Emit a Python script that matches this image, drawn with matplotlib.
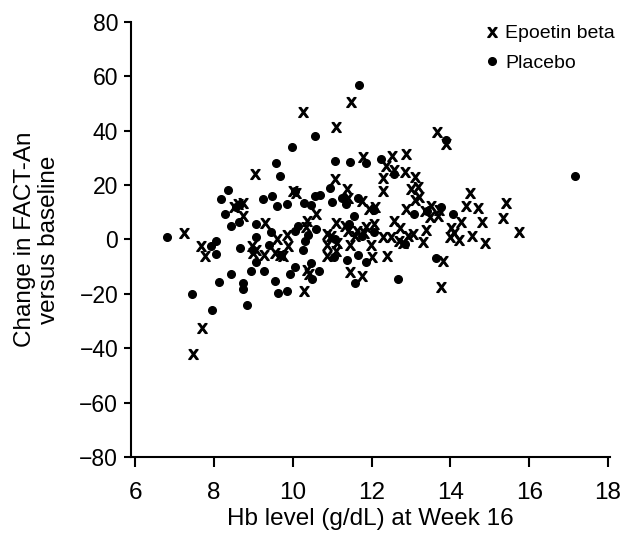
import matplotlib
matplotlib.use("Agg")
import matplotlib.pyplot as plt

# Placebo (dots)
placebo_x = [6.80, 7.45, 7.96, 8.06, 8.06, 7.93, 8.13, 8.17, 8.27, 8.37, 8.43, 8.44, 8.57, 8.65, 8.66,
             8.67, 8.75, 8.75, 8.84, 8.93, 9.06, 9.08, 9.08, 9.00, 9.25, 9.26, 9.41, 9.47, 9.46, 9.57,
             9.55, 9.59, 9.63, 9.67, 9.71, 9.85, 9.85, 9.94, 9.97, 10.06, 10.07, 10.06, 10.14, 10.26,
             10.28, 10.30, 10.46, 10.47, 10.48, 10.57, 10.56, 10.58, 10.68, 10.66, 10.38, 10.94, 11.00,
             11.07, 11.05, 11.07, 11.24, 11.34, 11.38, 11.44, 11.45, 11.55, 11.57, 11.65, 11.67, 11.65,
             11.75, 11.86, 11.86, 12.06, 12.06, 12.24, 12.58, 12.66, 12.85, 13.08, 13.40, 13.63, 13.77,
             13.88, 14.06, 17.17]
placebo_y = [1.0, -20.0, -25.8, -0.5, -5.5, -2.5, -15.6, 15.0, 9.2, 18.0, 4.9, -12.8, 12.0, 6.3, -3.0,
             13.0, -16.0, -18.4, -24.0, -11.7, 5.8, 0.9, -8.2, -4.0, 14.7, -11.7, -2.1, 15.8, 2.6, 27.9,
             -15.3, 12.2, -19.9, 23.1, -5.7, -19.1, 13.0, -12.6, 34.1, -10.3, 3.0, 17.9, 4.9, -3.8,
             13.3, -0.5, -8.6, 12.8, -14.6, 37.9, 15.8, 3.9, 16.4, -11.6, 1.5, 19.0, 13.6,
             28.8, -6.5, 0.0, 15.3, 13.0, -7.5, 5.7, 28.6, 8.6, -16.1, 15.1, 56.6, -5.7,
             1.3, 28.0, -8.4, 2.8, 10.8, 29.4, 23.9, -14.5, -1.8, 9.2, 10.3, -7.0, 11.8,
             36.5, 9.2, 23.4]

# Epoetin beta (x)
epo_x = [7.23, 7.67, 7.77, 7.69, 7.48, 8.51, 8.61, 8.73, 8.75, 9.05, 8.96, 9.06, 9.00, 9.29, 9.27,
         9.55, 9.61, 9.67, 9.75, 9.85, 9.87, 10.02, 10.08, 10.26, 10.28, 10.34, 10.37, 10.36, 10.42,
         10.58, 10.88, 10.88, 10.88, 10.98, 11.10, 11.08, 11.10, 11.12, 11.10, 11.32, 11.38, 11.40,
         11.40, 11.48, 11.46, 11.46, 11.57, 11.63, 11.77, 11.79, 11.81, 11.77, 11.85, 11.93, 11.98,
         12.00, 12.08, 12.06, 12.28, 12.28, 12.30, 12.36, 12.38, 12.50, 12.52, 12.58, 12.57, 12.69,
         12.71, 12.79, 12.85, 12.87, 12.88, 12.93, 12.99, 13.04, 13.10, 13.10, 13.19, 13.21, 13.30,
         13.35, 13.37, 13.48, 13.51, 13.67, 13.69, 13.71, 13.81, 13.77, 13.88, 13.98, 14.01, 14.09,
         14.21, 14.26, 14.39, 14.49, 14.56, 14.69, 14.79, 14.89, 15.34, 15.41, 15.74]
epo_y = [2.5, -2.5, -6.0, -32.5, -42.1, 12.0, 13.0, 13.3, 8.6, 24.2, -2.5, -3.8, -5.0, 6.0, -5.7,
         -5.0, 0.3, -5.7, -6.0, 1.5, -2.5, 17.6, 17.0, 46.8, -19.1, 4.4, 6.8, -11.3, -12.8,
         9.2, 1.9, -2.0, -6.0, 1.3, 41.3, 22.1, 6.0, -1.3, -4.4, 4.8, 18.4, 15.3,
         3.1, 50.4, -1.9, -12.1, 1.3, 3.0, 14.2, 30.2, 2.3, -13.3, 4.7, 11.3, -1.9,
         -6.5, 12.0, 5.7, 22.4, 17.6, 0.9, 27.0, -6.3, 0.9, 30.7, 6.9, 25.5, -0.5,
         4.0, -1.3, 24.8, 31.2, 11.1, 1.3, 18.6, 1.9, 22.9, 14.5, 19.1, 15.7, -0.8,
         10.3, 3.5, 8.2, 12.1, 39.4, 8.6, 10.9, -8.0, -17.6, 35.2, 0.9, 4.3, 2.5,
         -0.4, 6.5, 12.3, 17.2, 1.3, 11.6, 6.5, -1.3, 7.8, 13.3, 2.8]

x_ticks = [6, 8, 10, 12, 14, 16, 18]
y_ticks = [-80, -60, -40, -20, 0, 20, 40, 60, 80]

plt.rcParams['font.family'] = ['Liberation Sans', 'DejaVu Sans']

fig = plt.figure(figsize=(6.29, 5.33), dpi=100)
ax = fig.add_axes([0.2078, 0.1426, 0.762, 0.8167])

ax.plot(epo_x, epo_y, linestyle='none', marker=r'$\mathrm{x}$', markersize=7,
        color='black', label='Epoetin beta')
ax.plot(placebo_x, placebo_y, linestyle='none', marker='o', markersize=5.5,
        color='black', label='Placebo')

ax.set_xlim(5.89, 18.05)
ax.set_ylim(-80, 80)
ax.set_xticks(x_ticks)
ax.set_yticks(y_ticks)
ax.spines['top'].set_visible(False)
ax.spines['right'].set_visible(False)
ax.spines['left'].set_linewidth(1.5)
ax.spines['bottom'].set_linewidth(1.5)
ax.tick_params(axis='y', direction='out', length=5, width=1.5, labelsize=16.5, pad=4)
ax.tick_params(axis='x', direction='out', length=7, width=1.5, labelsize=17.5, pad=11)

ax.set_xlabel('Hb level (g/dL) at Week 16', fontsize=17.5, labelpad=3)
ax.set_ylabel('Change in FACT-An\nversus baseline', fontsize=17.5, labelpad=14,
              multialignment='center', linespacing=1.1)

leg = ax.legend(loc='upper left', frameon=False, fontsize=14, handletextpad=0.3,
                handlelength=0.8, borderaxespad=0.0, labelspacing=0.6,
                bbox_to_anchor=(476 / 629, 1 - 17 / 533),
                bbox_transform=fig.transFigure)

fig.savefig('out.png', dpi=100)
